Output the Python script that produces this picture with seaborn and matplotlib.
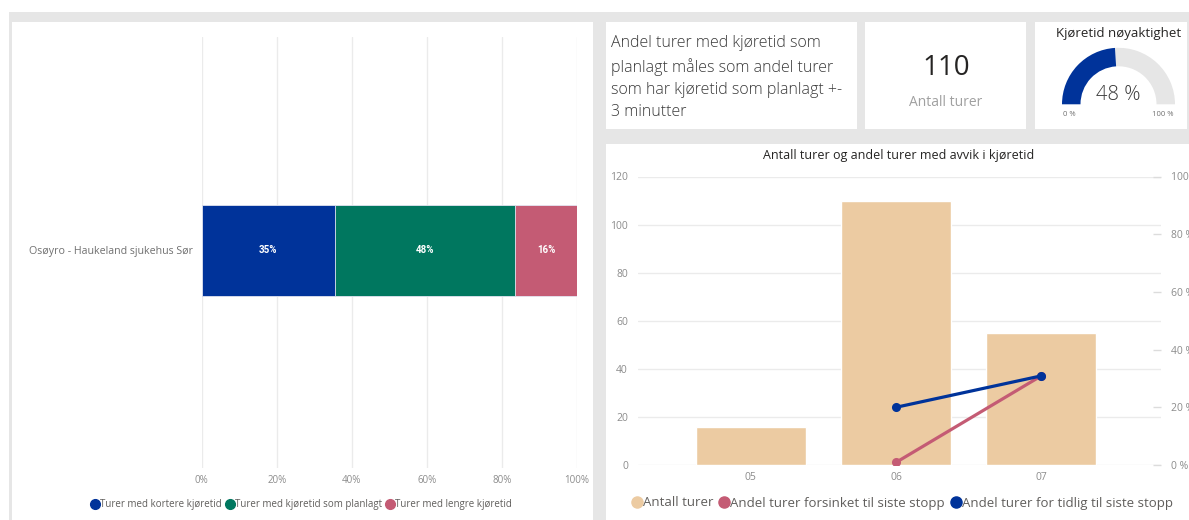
import numpy as np
import pandas as pd
import matplotlib
matplotlib.use("Agg")
import matplotlib.pyplot as plt
from matplotlib.patches import Rectangle, Wedge
from matplotlib.lines import Line2D
from matplotlib.ticker import FuncFormatter, MultipleLocator
import seaborn as sns

# --- data -------------------------------------------------------------------
route = "Osøyro - Haukeland sjukehus Sør"
route_groups = ["Turer med kortere kjøretid",
                "Turer med kjøretid som planlagt",
                "Turer med lengre kjøretid"]
route_shares = [35.45, 48.18, 16.36]          # % of trips

total_trips = 110
accuracy_pct = 48

months = ["05", "06", "07"]
trip_counts = [16, 110, 55]
late_share = [np.nan, 0.9, 30.9]              # % delayed to last stop
early_share = [np.nan, 20.0, 30.9]            # % early to last stop
line_series = ["Andel turer forsinket til siste stopp",
               "Andel turer for tidlig til siste stopp"]

info_text = ("Andel turer med kjøretid som\nplanlagt måles som andel turer\n"
             "som har kjøretid som planlagt +-\n3 minutter")

# --- style ------------------------------------------------------------------
BLUE = "#00339A"
GREEN = "#00775F"
PINK = "#C45B74"
BEIGE = "#ECCBA2"
PAGE = "#E6E6E6"
GRID = "#EBEBEB"
TICK = "#8C8C8C"
DARK = "#252423"
LEGEND = "#605E5C"

sns.set_theme(style="white")
FONT = ["Open Sans", "DejaVu Sans"]
plt.rcParams["font.family"] = FONT

W, H = 1189, 520
fig = plt.figure(figsize=(W / 100, H / 100), dpi=100)
fig.patch.set_facecolor("white")


def px(x0, y0, x1, y1):
    """Pixel box (top-left origin) -> figure fraction rect."""
    return [x0 / W, 1 - y1 / H, (x1 - x0) / W, (y1 - y0) / H]


def card(x0, y0, x1, y1, color="white", z=-2):
    fig.patches.append(Rectangle((x0 / W, 1 - y1 / H), (x1 - x0) / W, (y1 - y0) / H,
                                 transform=fig.transFigure, facecolor=color,
                                 edgecolor="none", zorder=z))


def text(x, y, s, **kw):
    return fig.text(x / W, 1 - y / H, s, **kw)


# page background and cards
card(9, 12, W, H, PAGE, z=-3)
card(12, 22, 593, H)
card(606, 22, 857, 129)
card(865, 22, 1026, 129)
card(1035, 22, 1187, 129)
card(606, 144, W, H)

# --- left: stacked share per route ------------------------------------------
ax1 = fig.add_axes(px(201.7, 37, 576.7, 468))
cum = np.cumsum(route_shares)
seg_colors = [BLUE, GREEN, PINK]
for total, col in list(zip(cum, seg_colors))[::-1]:
    sns.barplot(x=[total], y=[route], orient="h", color=col, saturation=1,
                width=0.5, edgecolor="#E4E6F2", linewidth=0.6, ax=ax1)
for total, share in zip(cum, route_shares):
    ax1.text(total - share / 2, 0, f"{share:.0f}%", ha="center", va="center",
             color="white", fontsize=7, fontweight="bold", family=["Roboto"])
ax1.set_xlim(0, 100)
ax1.set_ylim(1.192, -1.169)
ax1.xaxis.set_major_locator(MultipleLocator(20))
ax1.xaxis.set_major_formatter(FuncFormatter(lambda v, _: f"{v:.0f}%"))
ax1.grid(axis="x", color=GRID, lw=1)
ax1.grid(axis="y", visible=False)
ax1.set_axisbelow(True)
ax1.set_xlabel("")
ax1.set_ylabel("")
ax1.tick_params(axis="x", length=0, pad=5, labelsize=7, labelcolor=TICK)
ax1.tick_params(axis="y", length=0, pad=6, labelsize=7.7, labelcolor="#707070")
for s in ax1.spines.values():
    s.set_visible(False)
ax1.patch.set_alpha(0)

h1 = [Line2D([], [], marker="o", ls="none", color=c, markersize=7) for c in seg_colors]
fig.legend(h1, route_groups, loc="center", bbox_to_anchor=(302 / W, 1 - 505 / H),
           ncol=3, frameon=False, fontsize=7, labelcolor=LEGEND,
           handlelength=0.6, handletextpad=0.15, columnspacing=0.6, borderpad=0)

# --- right: trips per month with deviation shares ---------------------------
ax2 = fig.add_axes(px(637.7, 176.5, 1161, 465))
sns.barplot(x=months, y=trip_counts, color=BEIGE, saturation=1, width=0.76, ax=ax2)
ax2.set_ylim(0, 120)
ax2.yaxis.set_major_locator(MultipleLocator(20))
ax2.grid(axis="y", color=GRID, lw=1)
ax2.grid(axis="x", visible=False)
ax2.set_axisbelow(True)
ax2.set_xlabel("")
ax2.set_ylabel("")
ax2.tick_params(axis="x", length=0, pad=5, labelsize=7.5, labelcolor=TICK)
ax2.tick_params(axis="y", length=0, pad=7, labelsize=7.5, labelcolor=TICK)
for s in ax2.spines.values():
    s.set_visible(False)
ax2.patch.set_alpha(0)

lines = pd.DataFrame({
    "month": months * 2,
    "share": late_share + early_share,
    "series": [line_series[0]] * 3 + [line_series[1]] * 3,
}).dropna()
ax3 = ax2.twinx()
sns.pointplot(data=lines, x="month", y="share", hue="series", order=months,
              hue_order=line_series, palette=[PINK, BLUE], errorbar=None,
              markers="o", markersize=4.8, linewidth=2.3, legend=False, ax=ax3)
ax3.set_ylim(0, 100)
ax3.yaxis.set_major_locator(MultipleLocator(20))
ax3.yaxis.set_major_formatter(FuncFormatter(lambda v, _: f"{v:.0f} %"))
ax3.set_ylabel("")
ax3.set_xlabel("")
ax3.tick_params(axis="y", direction="in", length=6, width=1, color="#DCDCDC",
                pad=7, labelsize=7.5, labelcolor=TICK)
for s in ax3.spines.values():
    s.set_visible(False)
ax3.grid(False)
ax3.patch.set_alpha(0)
ax2.set_xlim(-0.778, 2.824)

text(899, 155, "Antall turer og andel turer med avvik i kjøretid", ha="center",
     va="center", fontsize=9, color=DARK)

h2 = [Line2D([], [], marker="o", ls="none", color=c, markersize=8)
      for c in [BEIGE, PINK, BLUE]]
fig.legend(h2, ["Antall turer"] + line_series, loc="center",
           bbox_to_anchor=(903 / W, 1 - 503 / H), ncol=3, frameon=False,
           fontsize=9.5, labelcolor=LEGEND, handlelength=0.6, handletextpad=0.15,
           columnspacing=0.5, borderpad=0)

# --- top cards ---------------------------------------------------------------
text(611, 35, info_text, ha="left", va="top", fontsize=11.5, color="#3A3A3A",
     fontweight="light", linespacing=1.5)

text(946, 68, f"{total_trips}", ha="center", va="center", fontsize=20, color=DARK)
text(946, 102, "Antall turer", ha="center", va="center", fontsize=10, color="#A0A0A0")

gx = fig.add_axes(px(1035, 22, 1187, 129))
gx.set_xlim(1035, 1187)
gx.set_ylim(H - 129, H - 22)
gx.axis("off")
cx, cy, r_out, ring = 1118.5, H - 104.3, 56.5, 18.5
split = 180 - accuracy_pct * 1.8
gx.add_patch(Wedge((cx, cy), r_out, 0, split, width=ring, facecolor=PAGE, edgecolor="none"))
gx.add_patch(Wedge((cx, cy), r_out, split, 180, width=ring, facecolor=BLUE, edgecolor="none"))
text(1118.5, 33, "Kjøretid nøyaktighet", ha="center", va="center", fontsize=9.5, color=DARK)
text(1118.5, 95, f"{accuracy_pct} %", ha="center", va="center", fontsize=14.5,
     color="#3A3A3A", fontweight="light")
text(1069, 115, "0 %", ha="center", va="center", fontsize=5.5, color="#707070")
text(1163, 115, "100 %", ha="center", va="center", fontsize=5.5, color="#707070")

fig.savefig("out.png", dpi=100)
